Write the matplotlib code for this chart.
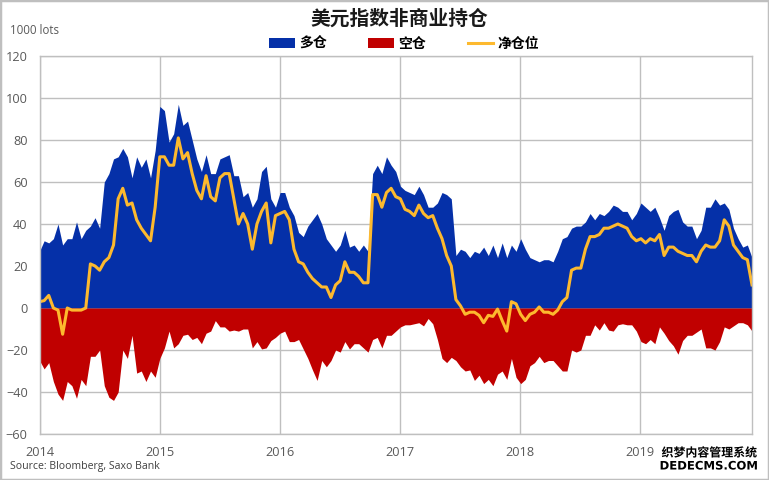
import numpy as np
import matplotlib
matplotlib.use('Agg')
import matplotlib.pyplot as plt
import matplotlib.patheffects as pe
from matplotlib.patches import Rectangle

W, H = 769, 480
CJK = ['Noto Sans CJK SC', 'DejaVu Sans']

# values in 1000 lots, one reading about every two weeks
long_pos = [
    27, 32, 31, 33, 40, 30, 33, 33, 41, 33, 37, 39, 43, 38, 60, 64, 71, 72, 76, 72, 62, 72, 67, 71, 62, 75,
    96, 94, 79, 83, 97, 87, 89, 80, 71, 65, 73, 64, 64, 71, 72, 73, 63, 63, 53, 55, 48, 52, 65, 67.5, 52, 48,
    55, 55, 48, 44, 36, 34, 39, 42, 45, 40, 33, 30, 27, 30, 37, 29, 30, 27, 30, 27, 64, 68, 64, 72, 68, 65,
    58, 56, 55, 54, 58, 54, 48, 48, 50, 55, 54, 52, 25, 28, 27, 24, 27, 26, 29, 25, 30, 24, 31, 24, 30, 27,
    33, 28, 24, 23, 22, 23, 23, 22, 27, 33, 34, 38, 39, 39, 41, 45, 42, 45, 44, 46, 49, 48, 46, 46, 42, 45,
    50, 48, 46, 48, 43, 37, 44, 46, 47, 41, 39, 39, 33, 37, 48, 48, 52, 49, 50, 47, 38, 33, 29, 30, 24,
]
short_pos = [
    -25, -29, -26, -35, -41, -44, -35, -37, -43, -34, -37, -23, -23, -20, -37, -42.5, -44, -40, -20, -24, -13, -31, -30, -35, -30, -33,
    -24, -19, -11, -19, -17, -13, -12.5, -15, -14, -17, -12, -11, -6, -9, -9, -11, -10.5, -11, -10, -10, -19, -16, -19.5, -19, -15.5, -14,
    -12, -11, -16, -16, -15, -19.5, -24, -29.5, -34.5, -25, -28, -25, -20, -21, -16, -19.5, -17, -17, -19, -21, -15, -14, -19, -13, -13, -11,
    -9, -8, -8, -7.5, -7, -8.5, -5, -7.5, -15, -24, -26, -23.5, -25, -28, -30, -29.5, -34.5, -32, -36, -34, -37, -31.5, -30, -34, -24, -33,
    -36, -34, -27.5, -26, -23, -26, -25, -25, -27.5, -30, -30, -20, -21, -20, -13, -13, -8, -10.5, -7, -10.5, -11, -8, -7.5, -8, -8, -11,
    -16, -17, -15, -17, -9, -12, -15.5, -18, -22, -15.5, -13, -13, -11.5, -10, -19, -19, -20, -16, -9, -10, -8.5, -7, -7, -8, -11,
]
net_pos = [
    3, 3.5, 6, 0, -1, -12.5, 0, -1, -1, -1, 0, 21, 20, 18, 22, 24, 30, 52, 57, 49, 50, 42, 38, 35, 32, 48,
    72, 72, 68, 68, 81, 71, 74, 64, 56, 52, 63, 53, 51, 62, 64, 64, 52, 40, 45, 40, 28, 40, 46, 50, 31, 44,
    45, 46, 42, 28, 22, 21, 17, 14, 12, 10, 10, 5, 11, 13, 22, 17, 17, 15, 12, 12, 54, 54, 48, 55, 57, 53,
    52, 47, 46, 44, 49, 45, 43, 44, 38, 33, 25, 20, 4, 1, -3, -2, -2, -3.5, -7, -3.5, -4, -0.5, -6, -11, 3, 2,
    -3, -6, -3, -2, 0.5, -2, -2, -3, -1, 3, 5, 18, 19, 19, 28, 34, 34, 35, 38, 38, 39, 40, 39, 38, 34, 32,
    33, 31, 33, 32, 35, 25, 29, 29, 27, 26, 25, 25, 22, 27, 30, 29, 29, 32, 42, 39, 30, 27, 24, 23, 11,
]
year_ticks = [2014, 2015, 2016, 2017, 2018, 2019]
y_ticks = [120, 100, 80, 60, 40, 20, 0, -20, -40, -60]

dates = np.linspace(2014.0, 2019.93, len(long_pos))

fig = plt.figure(figsize=(W / 100, H / 100), dpi=100)
left, right, top, bottom = 39.5, 752.0, 56.0, 434.0
ax = fig.add_axes([left / W, 1 - bottom / H, (right - left) / W, (bottom - top) / H])

h_long = ax.fill_between(dates, 0, long_pos, color='#0530A8', lw=0, label='多仓')
h_short = ax.fill_between(dates, 0, short_pos, color='#C00000', lw=0, label='空仓')
h_net, = ax.plot(dates, net_pos, color='#FDB92E', lw=2.2, label='净仓位')

ax.set_xlim(2014, 2019.93)
ax.set_ylim(-60, 120)
ax.set_xticks(year_ticks)
ax.set_yticks(y_ticks)
ax.grid(True, color='#BFBFBF', lw=1)
ax.set_axisbelow(True)
for s in ax.spines.values():
    s.set_color('#BFBFBF')
    s.set_linewidth(1)
ax.tick_params(length=0, labelsize=9.2, labelcolor='#595959', pad=8.5)
for lab in ax.get_xticklabels() + ax.get_yticklabels():
    lab.set_family('Open Sans')

fig.text(399.5 / W, 1 - 19 / H, '美元指数非商业持仓', family=CJK, fontsize=14.2, fontweight='bold',
         color='#1A1A1A', ha='center', va='center')
fig.text(10 / W, 1 - 30 / H, '1000 lots', family='Open Sans', fontsize=8.3, color='#595959', va='center')
fig.text(10 / W, 1 - 467 / H, 'Source: Bloomberg, Saxo Bank', family='Open Sans', fontsize=7.6,
         color='#404040', va='center')

fig.legend(handles=[h_long, h_short, h_net], loc='center', bbox_to_anchor=(404 / W, 1 - 44 / H), ncol=3,
           frameon=False, prop={'family': CJK, 'size': 10, 'weight': 'bold'}, handlelength=1.85,
           handletextpad=0.3, columnspacing=3.0, borderpad=0)

# site watermark in the corner
halo = [pe.withStroke(linewidth=2.5, foreground='white')]
fig.text(709 / W, 1 - 453 / H, '织梦内容管理系统', family=CJK, fontsize=8.6, fontweight='bold', color='black',
         ha='center', va='center', path_effects=halo)
fig.text(709 / W, 1 - 466 / H, 'DEDECMS.COM', family='DejaVu Sans', fontsize=8.4, fontweight='bold', color='black',
         ha='center', va='center', path_effects=halo)

# outer frame of the picture
fig.add_artist(Rectangle((0, 0), 1, 1, transform=fig.transFigure, fill=False, ec='#BFBFBF', lw=2.5))

fig.savefig('out.png', dpi=100)
